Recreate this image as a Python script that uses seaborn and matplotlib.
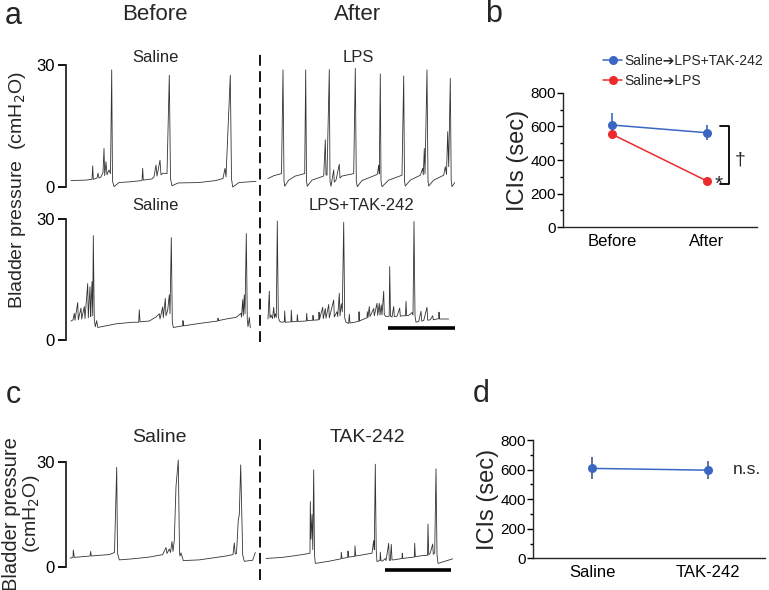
import numpy as np
import pandas as pd
import matplotlib
matplotlib.use("Agg")
import matplotlib.pyplot as plt
from matplotlib.ticker import MultipleLocator
from matplotlib.lines import Line2D
import seaborn as sns

# ---- cystometry traces, (time, cmH2O) vertices ----
# time axis in arbitrary units, "after" segments start after the break at 194
a_before_saline = [(5,1.6),(20,1.7),(26,1.9),(26.7,5.2),(27.3,1.9),(31,2.2),(32,3.4),(33,2.2),(35,2.5),(37,3.6),(38,9.5),(38.7,2.8),(40,6.2),(41,3.0),(43,4.2),(44.5,3.3),(45.7,28.8),(46.5,1.5),(48,0.1),(53,1.1),(65,1.3),(76,1.6),(76.7,4.6),(77.3,1.7),(86,2.0),(88,2.5),(90,5.4),(91,2.7),(94,6.6),(95,3.0),(97,3.4),(101,3.3),(103.3,27.5),(104.5,2.0),(106,0.3),(112,1.0),(133,1.1),(150,1.6),(157,2.1),(159,4.6),(160,2.5),(164.3,27.5),(165.5,2.0),(166.7,0.0),(173,1.1),(190,1.4)]
a_after_lps = [(202,2.1),(208,2.8),(215.5,3.3),(217,28.8),(218,1.5),(218.7,0.2),(222.7,1.7),(229.3,2.7),(238.7,3.3),(239.7,28.8),(240.5,1.5),(241.3,0.2),(246,1.7),(257.7,2.7),(259.3,11.6),(260,3.0),(261,2.9),(263.3,28.9),(264,1.5),(265,0.2),(267.7,4.2),(268.3,1.2),(270,1.7),(273.3,5.6),(274,2.2),(276,2.7),(287.7,3.3),(289.3,29.2),(290.3,1.5),(291.3,0.1),(296,1.6),(309.3,2.9),(311.5,3.2),(312.7,5.4),(313.3,3.2),(314.3,27.8),(315,1.5),(316,0.1),(322.7,1.7),(336,2.9),(337.7,27.3),(338.5,1.5),(339.3,0.25),(344.3,1.7),(354.3,2.9),(356.7,4.6),(357.3,3.0),(358.3,9.5),(359,3.2),(361,28.8),(362,1.5),(362.7,0.25),(367.7,1.7),(377.7,2.9),(379.3,5.0),(380.5,3.1),(381.7,13.6),(382.7,5.0),(384.3,26.7),(385.2,1.5),(386,0.1),(388.7,1.1)]
a2_before_saline = [(5,4.7),(7,5.0),(8.3,6.6),(9,4.9),(11.7,9.3),(12.3,5.0),(15,7.9),(15.7,5.2),(18.3,8.3),(19,5.3),(21.7,14.0),(22.3,5.5),(24,13.2),(24.7,5.8),(25,8.0),(26,14.5),(26.7,6.0),(27.3,25.9),(28.3,5.0),(29.3,3.3),(30.7,4.8),(31.7,3.1),(50,4.0),(66.7,4.4),(72.7,4.4),(73.3,7.5),(74,4.5),(83.3,4.7),(90,5.7),(93.3,6.5),(94,5.2),(96.7,8.2),(97.3,5.5),(99.3,10.3),(100,6.0),(101.7,7.4),(103.3,11.2),(104,6.5),(105.3,25.4),(106.3,4.5),(107.3,3.1),(116.7,3.5),(117,4.8),(117.5,3.5),(133.3,4.1),(151.7,4.7),(152,5.4),(152.5,4.8),(160,5.2),(170,5.6),(175,6.6),(175.5,5.7),(176.7,10.0),(177.3,6.0),(178.3,11.2),(179,6.5),(180.3,26.4),(181.3,5.0),(182,3.3),(183.3,5.6),(184.3,3.0)]
a2_after_lps_tak = [(202,5.2),(203.3,12.1),(204,5.5),(205,6.2),(206.5,5.3),(207.7,8.1),(208.5,5.5),(209.3,6.5),(210.3,5.6),(211.3,29.5),(212.3,6.0),(213.3,4.7),(215.3,4.4),(218.3,4.5),(218.7,7.2),(219.3,4.4),(225,4.5),(225.3,7.4),(226,4.5),(231,4.6),(231.3,6.3),(232,4.6),(240.3,4.7),(240.7,6.6),(241.3,4.8),(246.7,4.9),(247,6.1),(247.5,4.9),(252.7,5.0),(253,6.9),(253.5,5.1),(256.7,8.1),(257.3,5.3),(259.3,7.8),(260,5.4),(262.7,8.8),(263.3,5.5),(267.7,9.9),(268.3,5.7),(271,7.0),(271.7,5.8),(273.3,11.6),(274,6.0),(275.3,9.0),(276.3,7.0),(277.7,29.2),(278.7,5.5),(280,4.4),(282.7,4.1),(283.3,6.4),(284,4.2),(292.7,4.6),(293,7.0),(293.5,4.7),(296,5.0),(301,5.5),(301.3,7.0),(302,5.6),(303.3,8.3),(304,5.8),(307.7,7.8),(308.3,6.0),(311,9.1),(311.7,6.1),(313.3,9.1),(314,6.2),(315.3,8.7),(316,6.2),(317.7,12.1),(318.3,6.3),(320,5.8),(323.2,5.9),(323.7,18.2),(324.5,5.9),(326,5.7),(327.7,8.3),(328.3,5.8),(331,5.9),(333.7,7.9),(334.3,5.9),(336,6.0),(339.5,6.0),(340,9.6),(340.7,6.0),(342.7,6.1),(346,6.8),(347,6.2),(348,29.4),(349,6.0),(350,4.4),(352.7,4.6),(355,7.1),(355.7,4.7),(357.7,4.8),(361,8.1),(361.7,4.9),(364.3,5.0),(366.7,6.0),(367.3,5.0),(372.7,5.3),(373,6.9),(373.5,5.2),(377.7,5.2),(382.7,5.2)]
c_saline = [(4,2.6),(7,2.8),(7.3,4.9),(8.3,2.8),(24,3.2),(24.7,4.5),(25.3,3.2),(33.3,3.4),(43.3,3.6),(46.7,4.0),(48.5,4.2),(50.7,28.4),(51.5,4.0),(53.3,2.1),(66.7,2.4),(83.3,2.9),(96.7,3.6),(100,5.6),(101,3.9),(103.3,5.2),(104.5,4.2),(106,7.3),(107,4.5),(108.3,7.7),(110,23.0),(112.3,30.5),(113.5,4.2),(114,3.2),(115,4.1),(117.3,1.9),(133.3,2.1),(160,3.2),(167,3.6),(168.3,6.9),(169.2,3.8),(170.5,3.9),(172.3,13.5),(173.3,14.9),(174.7,29.1),(176.7,3.5),(178.3,1.7),(186.7,2.0),(189.3,4.2)]
c_tak = [(200,2.5),(216,2.8),(229.3,3.3),(242.7,3.9),(244,4.0),(244.3,18.7),(245,8.0),(246,15.0),(246.8,5.0),(247.7,27.7),(248.5,3.5),(249.3,1.1),(262.7,1.7),(275,2.4),(275.3,4.3),(276,2.5),(281.7,2.8),(282,4.6),(282.5,2.9),(288.7,3.1),(289,6.1),(289.7,3.2),(296,3.5),(306,4.0),(307.7,7.6),(308.3,5.0),(309.3,29.3),(310.2,5.0),(311,1.6),(314,2.0),(314.3,4.3),(315,1.8),(316.7,1.8),(319.3,2.5),(320,1.9),(322.7,6.8),(323.3,2.0),(324.3,1.9),(325.3,6.5),(326,2.1),(327.7,2.1),(336,2.5),(336.3,4.0),(336.8,2.5),(348.3,2.9),(348.7,6.8),(349.3,3.0),(356,3.3),(361.5,3.4),(362,12.3),(362.7,3.5),(364.3,4.1),(366.7,6.6),(367.3,3.7),(368.7,4.1),(370,28.0),(371,3.5),(372,1.1),(386.7,2.4)]
BREAK_T = 194
SCALE_A = (322, 389.5, 2.9)   # start, end, level
SCALE_C = (319, 385, -0.8)

# ---- ICIs (sec), mean and error ----
b_groups = ["Before", "After"]
b_tak_mean = [608, 562]
b_tak_err = [73, 45]
b_lps_mean = [553, 275]
b_lps_err = [15, 20]
d_groups = ["Saline", "TAK-242"]
d_mean = [608, 596]
d_err = [75, 60]

BLUE = "#3b67c2"
RED = "#ea2a2c"
TRACE = "#333333"

sns.set_theme(style="ticks")
plt.rcParams["font.family"] = ["Liberation Sans", "DejaVu Sans"]
plt.rcParams["axes.linewidth"] = 1.0
plt.rcParams["xtick.color"] = "black"
plt.rcParams["ytick.color"] = "black"

W, H = 769, 590
fig = plt.figure(figsize=(W / 100, H / 100), dpi=100)


def px_axes(left, top, right, bottom):
    return fig.add_axes([left / W, 1 - bottom / H, (right - left) / W, (bottom - top) / H])


def trace_axes(top, bottom, ylo):
    ax = px_axes(66, top, 460, bottom)
    ax.set_xlim(0, 394)
    ax.set_ylim(ylo, 31)
    for s in ["top", "right", "bottom"]:
        ax.spines[s].set_visible(False)
    ax.spines["left"].set_bounds(0, 30)
    ax.spines["left"].set_linewidth(1.3)
    ax.set_xticks([])
    ax.set_yticks([0, 30])
    ax.tick_params(axis="y", length=6, width=1.3, labelsize=12, pad=2)
    ax.set_facecolor("none")
    return ax


def draw_trace(ax, pts):
    df = pd.DataFrame(pts, columns=["t", "p"])
    sns.lineplot(data=df, x="t", y="p", ax=ax, sort=False, estimator=None,
                 color=TRACE, lw=0.6)
    ax.set_xlabel("")
    ax.set_ylabel("")


# ---------------- panel a ----------------
ax_a1 = trace_axes(60.9, 191.1, -1)
draw_trace(ax_a1, a_before_saline)
draw_trace(ax_a1, a_after_lps)
ax_a2 = trace_axes(215.0, 344.0, -1)
draw_trace(ax_a2, a2_before_saline)
draw_trace(ax_a2, a2_after_lps_tak)
ax_a2.plot(SCALE_A[:2], [SCALE_A[2]] * 2, color="black", lw=2.6, solid_capstyle="butt")
ax_a1.axvline(BREAK_T, ymin=(191.1 - 342) / 130.2, ymax=(191.1 - 50) / 130.2,
              clip_on=False, color="black", lw=1.3, ls=(0, (6, 3)))

fig.text(155 / W, 1 - 14 / H, "Before", ha="center", va="center", fontsize=16)
fig.text(358 / W, 1 - 14 / H, "After", ha="center", va="center", fontsize=16)
fig.text(155 / W, 1 - 57 / H, "Saline", ha="center", va="center", fontsize=12)
fig.text(358 / W, 1 - 57 / H, "LPS", ha="center", va="center", fontsize=12)
fig.text(155 / W, 1 - 205 / H, "Saline", ha="center", va="center", fontsize=12)
fig.text(361 / W, 1 - 205 / H, "LPS+TAK-242", ha="center", va="center", fontsize=12)
fig.text(18 / W, 1 - 190 / H, "Bladder pressure  (cmH$_2$O)", rotation=90,
         ha="center", va="center", fontsize=14)

# ---------------- panel c ----------------
ax_c = trace_axes(458.2, 574.3, -2)
draw_trace(ax_c, c_saline)
draw_trace(ax_c, c_tak)
ax_c.plot(SCALE_C[:2], [SCALE_C[2]] * 2, color="black", lw=2.6, solid_capstyle="butt")
ax_c.axvline(BREAK_T, ymin=(574.3 - 580) / 116.1, ymax=(574.3 - 438) / 116.1,
             clip_on=False, color="black", lw=1.3, ls=(0, (6, 3)))
fig.text(159 / W, 1 - 437 / H, "Saline", ha="center", va="center", fontsize=14)
fig.text(367 / W, 1 - 437 / H, "TAK-242", ha="center", va="center", fontsize=14)
fig.text(12 / W, 1 - 514 / H, "Bladder pressure", rotation=90,
         ha="center", va="center", fontsize=14.5)
fig.text(31 / W, 1 - 514 / H, "(cmH$_2$O)", rotation=90,
         ha="center", va="center", fontsize=14)


def ici_axes(ax, labels):
    sns.despine(ax=ax)
    ax.set_ylim(0, 800)
    ax.yaxis.set_major_locator(MultipleLocator(200))
    ax.yaxis.set_minor_locator(MultipleLocator(100))
    ax.tick_params(axis="y", which="major", length=4, width=1, labelsize=11, pad=1)
    ax.tick_params(axis="y", which="minor", length=2.5, width=1)
    ax.set_xticks(range(len(labels)))
    ax.set_xticklabels(labels, fontsize=12)
    ax.tick_params(axis="x", length=0, pad=5)
    ax.set_ylabel("ICIs (sec)", fontsize=17, labelpad=1)
    ax.set_xlabel("")
    ax.set_facecolor("none")


# ---------------- panel b ----------------
ax_b = px_axes(563, 92.7, 757, 227.3)
xb = np.arange(len(b_groups))
for mean, err, col in [(b_tak_mean, b_tak_err, BLUE), (b_lps_mean, b_lps_err, RED)]:
    ax_b.errorbar(xb, mean, yerr=err, fmt="none", ecolor=col, elinewidth=1.2, capsize=0)
    sns.lineplot(x=xb, y=mean, ax=ax_b, color=col, lw=1.1, marker="o",
                 markersize=6.5, markeredgewidth=0)
ax_b.set_xlim(-0.516, 1.526)
ici_axes(ax_b, b_groups)
# significance bracket between the After groups
bx = 1.23
ax_b.plot([bx - 0.09, bx, bx, bx - 0.09], [b_tak_mean[1] + 40, b_tak_mean[1] + 40,
                                           b_lps_mean[1] - 20, b_lps_mean[1] - 20],
          color="black", lw=1.3, clip_on=False)
ax_b.text(bx + 0.12, 400, "\u2020", ha="center", va="center", fontsize=14)
ax_b.text(1.12, b_lps_mean[1] - 22, "*", ha="center", va="center", fontsize=15)

handles = [Line2D([], [], color=BLUE, lw=1.1, marker="o", markersize=6.5, markeredgewidth=0),
           Line2D([], [], color=RED, lw=1.1, marker="o", markersize=6.5, markeredgewidth=0)]
fig.legend(handles, ["Saline\u2794LPS+TAK-242", "Saline\u2794LPS"],
           loc="upper left", bbox_to_anchor=(603 / W, 1 - 54 / H), frameon=False,
           fontsize=10, handlelength=1.4, handletextpad=0.15, labelspacing=0.4,
           borderpad=0, borderaxespad=0)

# ---------------- panel d ----------------
ax_d = px_axes(533, 440, 765, 558.3)
xd = np.arange(len(d_groups))
ax_d.errorbar(xd, d_mean, yerr=d_err, fmt="none", ecolor="#4a5a80", elinewidth=1.2, capsize=0)
sns.lineplot(x=xd, y=d_mean, ax=ax_d, color=BLUE, lw=1.1, marker="o",
             markersize=6.5, markeredgewidth=0)
ax_d.set_xlim(-0.509, 1.491)
ici_axes(ax_d, d_groups)
ax_d.text(1.215, d_mean[1] + 5, "n.s.", ha="left", va="center", fontsize=12.5)

# panel letters
for lx, ly, s in [(13, 16, "a"), (494, 14, "b"), (13, 395, "c"), (481, 394, "d")]:
    fig.text(lx / W, 1 - ly / H, s, ha="center", va="center", fontsize=22)

fig.savefig("out.png", dpi=100)
